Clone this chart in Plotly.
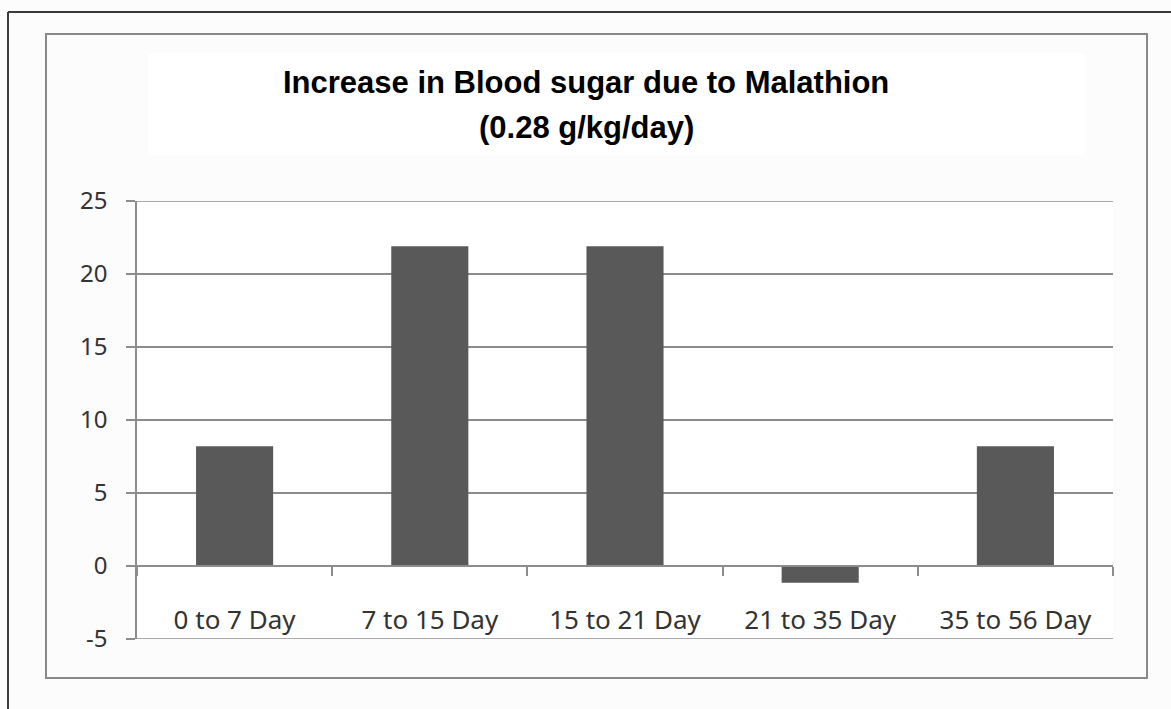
import plotly.graph_objects as go

categories = ["0 to 7 Day", "7 to 15 Day", "15 to 21 Day", "21 to 35 Day", "35 to 56 Day"]
values = [8.2, 21.9, 21.9, -1.15, 8.2]
title_line1 = "Increase in Blood sugar due to Malathion"
title_line2 = "(0.28 g/kg/day)"
y_ticks = [-5, 0, 5, 10, 15, 20, 25]
y_ticktext = ["-5", "0", "5", "10", "15", "20", "25"]

W, H = 1171, 709
L, R, T, B = 137, 1113, 201, 639  # plot area in pixels


def px(x):
    return (x - L) / (R - L)


def py(y):
    return (B - y) / (B - T)


fig = go.Figure(go.Bar(x=categories, y=values, marker_color="#595959",
                       marker_line_width=0, width=0.395))

grid = "#8c8c8c"
shapes = [
    # inner chart-area border
    dict(type="rect", xref="paper", yref="paper", x0=px(46), x1=px(1147), y0=py(678), y1=py(34),
         line=dict(color="#8a8a8a", width=2), layer="below"),
    # outer frame (left and top)
    dict(type="line", xref="paper", yref="paper", x0=px(8), x1=px(8), y0=py(12), y1=py(720),
         line=dict(color="#3a3a3a", width=2)),
    dict(type="line", xref="paper", yref="paper", x0=px(8), x1=px(1180), y0=py(12), y1=py(12),
         line=dict(color="#3a3a3a", width=2)),
    # white title box
    dict(type="rect", xref="paper", yref="paper", x0=px(148), x1=px(1085), y0=py(155), y1=py(54),
         line=dict(width=0), fillcolor="white", layer="below"),
]
# gridlines at the range edges (plotly hides them)
for yv in (y_ticks[0], y_ticks[-1]):
    shapes.append(dict(type="line", xref="paper", yref="y", x0=px(128), x1=1, y0=yv, y1=yv,
                       line=dict(color=grid, width=1.5), layer="below"))

annotations = [
    dict(text="<b>" + title_line1 + "</b>", xref="paper", yref="paper", x=px(586), y=py(83),
         showarrow=False, font=dict(family="Liberation Sans, Arial", size=31, color="#000000"),
         xanchor="center", yanchor="middle"),
    dict(text="<b>" + title_line2 + "</b>", xref="paper", yref="paper", x=px(586), y=py(128),
         showarrow=False, font=dict(family="Liberation Sans, Arial", size=31, color="#000000"),
         xanchor="center", yanchor="middle"),
]

fig.update_layout(
    width=W, height=H,
    margin=dict(l=L, r=W - R, t=T, b=H - B, pad=0),
    paper_bgcolor="#fcfcfc", plot_bgcolor="white",
    showlegend=False,
    shapes=shapes, annotations=annotations,
)

fig.update_yaxes(range=[-5, 25], tickvals=y_ticks, ticktext=y_ticktext,
                 showgrid=True, gridcolor=grid, gridwidth=1.5,
                 zeroline=False, showline=True, linecolor=grid, linewidth=1.5,
                 ticks="outside", ticklen=9, tickcolor=grid, tickwidth=1.5,
                 tickfont=dict(family="Noto Sans", size=24, color="#333333"),
                 ticklabelstandoff=14)

fig.update_xaxes(anchor="free", position=5 / 30, showline=True, linecolor=grid, linewidth=1.5,
                 ticks="outside", tickson="boundaries", ticklen=9, tickcolor=grid, tickwidth=1.5,
                 showgrid=False,
                 tickfont=dict(family="Noto Sans", size=26, color="#333333"),
                 ticklabelstandoff=31)

fig.write_html("out.html", post_script="document.body.style.margin='0';",
               config={"displayModeBar": False})
